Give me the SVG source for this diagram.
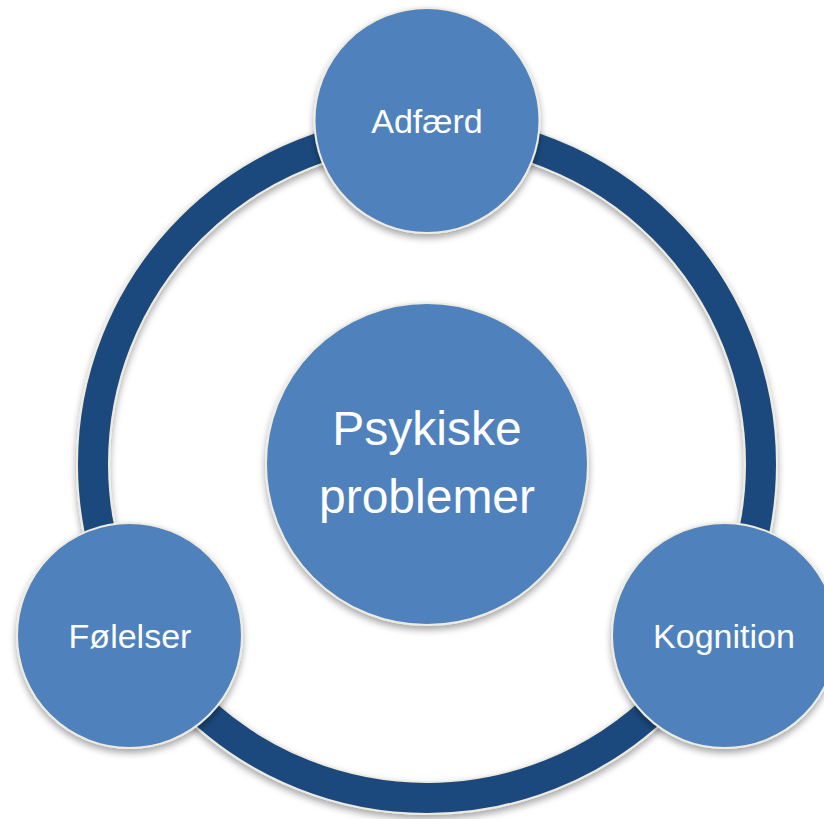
<svg xmlns="http://www.w3.org/2000/svg" width="824" height="819" viewBox="0 0 824 819">
  <defs>
    <filter id="shadow" x="-20%" y="-20%" width="140%" height="150%">
      <feDropShadow dx="0" dy="4" stdDeviation="3.5" flood-color="#000000" flood-opacity="0.35"/>
    </filter>
    <style>
      .node { fill: #4F81BD; stroke: #EEECE1; stroke-width: 2; filter: url(#shadow); }
      .lbl { font-family: "Liberation Sans", Arial, sans-serif; fill: #FFFFFF; text-anchor: middle; }
      .small { font-size: 34px; }
      .big { font-size: 48px; }
    </style>
  </defs>
  <rect x="0" y="0" width="824" height="819" fill="#FFFFFF"/>
  <g id="connectors">
    <g filter="url(#shadow)">
      <circle cx="427" cy="464" r="334" fill="none" stroke="#EEECE1" stroke-width="34"/>
      <circle cx="427" cy="464" r="334" fill="none" stroke="#1F497D" stroke-width="30"/>
    </g>
  </g>
  <g id="center">
    <circle class="node" cx="427" cy="464" r="161"/>
    <text class="lbl big" x="427" y="445">Psykiske</text>
    <text class="lbl big" x="427" y="513">problemer</text>
  </g>
  <g id="adfaerd">
    <circle class="node" cx="427" cy="120.5" r="112.5"/>
    <text class="lbl small" x="427" y="132.5">Adfærd</text>
  </g>
  <g id="folelser">
    <circle class="node" cx="129.5" cy="635.5" r="112.5"/>
    <text class="lbl small" x="130" y="647.5">Følelser</text>
  </g>
  <g id="kognition">
    <circle class="node" cx="724.5" cy="635.5" r="112.5"/>
    <text class="lbl small" x="724" y="647.5">Kognition</text>
  </g>
</svg>
